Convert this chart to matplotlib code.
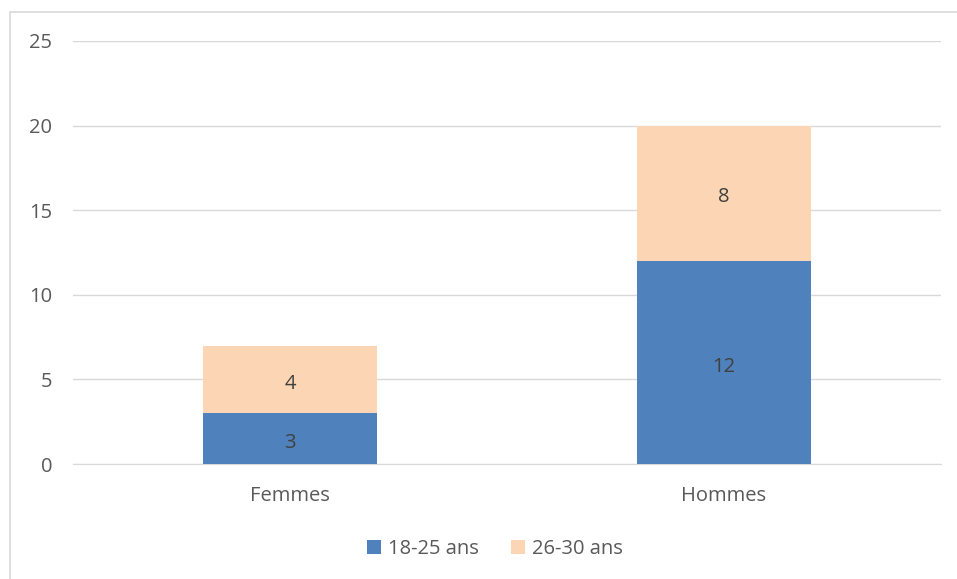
import matplotlib.pyplot as plt
from matplotlib.patches import Rectangle

plt.rcParams['font.family'] = ['Open Sans', 'DejaVu Sans']

categories = ["Femmes", "Hommes"]
series_names = ["18-25 ans", "26-30 ans"]
age_18_25 = [3, 12]
age_26_30 = [4, 8]
y_ticks = [0, 5, 10, 15, 20, 25]

colors = ["#4f81bd", "#fcd5b4"]
text_col = "#595959"
grid_col = "#d9d9d9"
fs = 14.5

fig = plt.figure(figsize=(9.57, 5.79), dpi=100)
ax = fig.add_axes([73 / 957, 115 / 579, 868 / 957, 423 / 579])

x = range(len(categories))
b1 = ax.bar(x, age_18_25, width=0.4, color=colors[0], label=series_names[0], zorder=3)
b2 = ax.bar(x, age_26_30, width=0.4, bottom=age_18_25, color=colors[1], label=series_names[1], zorder=3)

for bars in (b1, b2):
    labels = ax.bar_label(bars, label_type="center", color="#404040", fontsize=fs)
    for lb in labels:
        lb.set_y(lb.get_position()[1])
        lb.xyann = (0, -3)

ax.set_xlim(-0.5, 1.5)
ax.set_ylim(0, 25)
ax.set_yticks(y_ticks)
ax.set_xticks(list(x))
ax.set_xticklabels(categories)
ax.tick_params(axis="both", length=0, colors=text_col, labelsize=fs)
ax.tick_params(axis="y", pad=15)
ax.tick_params(axis="x", pad=16)
ax.grid(axis="y", color=grid_col, linewidth=1, zorder=0)
for side in ["top", "right", "left"]:
    ax.spines[side].set_visible(False)
ax.spines["bottom"].set_color(grid_col)

leg = fig.legend(loc="center", bbox_to_anchor=(495 / 957, 1 - 549 / 579), ncol=2,
                 frameon=False, fontsize=fs, handlelength=0.7, handleheight=0.7,
                 handletextpad=0.35, columnspacing=1.6)
for t in leg.get_texts():
    t.set_color(text_col)

# chart border
fig.patches.append(Rectangle((10 / 957, -0.1), 1.2, 1 - 12 / 579 + 0.1,
                             transform=fig.transFigure, fill=False,
                             edgecolor=grid_col, linewidth=1.2))

fig.savefig("out.png", dpi=100)
